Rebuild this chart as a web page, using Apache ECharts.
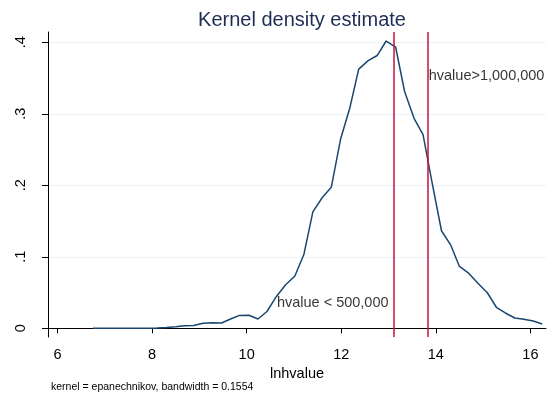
<!DOCTYPE html>
<html>
<head>
<meta charset="utf-8">
<script src="https://cdn.jsdelivr.net/npm/echarts@6/dist/echarts.min.js"></script>
<style>
  html, body { margin: 0; padding: 0; background: #fff; }
  #main { width: 547px; height: 396px; }
</style>
</head>
<body>
<div id="main"></div>
<script>
// density estimate (50 evaluation points)
const xs = [6.75, 6.95, 7.14, 7.33, 7.53, 7.72, 7.91, 8.11, 8.30, 8.50,
  8.69, 8.88, 9.08, 9.27, 9.47, 9.66, 9.85, 10.05, 10.24, 10.43,
  10.63, 10.82, 11.02, 11.21, 11.40, 11.60, 11.79, 11.99, 12.18, 12.37,
  12.57, 12.76, 12.95, 13.15, 13.34, 13.54, 13.73, 13.92, 14.12, 14.31,
  14.50, 14.70, 14.89, 15.09, 15.28, 15.47, 15.67, 15.86, 16.06, 16.25]
const density = [0, 0, 0, 0, 0, 0, 0, 0.0003, 0.0011, 0.0021,
  0.0035, 0.0038, 0.0071, 0.0077, 0.0074, 0.0130, 0.0180, 0.0182, 0.0130, 0.0235,
  0.0445, 0.0606, 0.0731, 0.1031, 0.1627, 0.1829, 0.1972, 0.2655, 0.3077, 0.3624,
  0.3743, 0.3815, 0.4018, 0.3934, 0.3312, 0.2937, 0.2709, 0.2042, 0.1364, 0.1171,
  0.0865, 0.0767, 0.0630, 0.0497, 0.0294, 0.0214, 0.0144, 0.0126, 0.0102, 0.0060]
const xTicks = [6, 8, 10, 12, 14, 16]
const yTicks = [0, 0.1, 0.2, 0.3, 0.4]
const yTickLabels = ['0', '.1', '.2', '.3', '.4']
const cutoffs = [13.122, 13.8155]   // ln(500,000), ln(1,000,000)
const notes = [
  { name: 'hvalue < 500,000', x: 10.64, y: 0.0354 },
  { name: 'hvalue>1,000,000', x: 13.85, y: 0.353 }
]

const font = 'Liberation Sans, Arial, sans-serif'
let chart = echarts.init(document.getElementById('main'))

chart.setOption({
  animation: false,
  title: {
    text: 'Kernel density estimate',
    left: 297,
    textAlign: 'center',
    top: 5,
    textStyle: { color: '#1e2d53', fontSize: 20, fontWeight: 'normal', fontFamily: font }
  },
  grid: { left: 48, right: 1, top: 32, bottom: 59 },
  xAxis: {
    type: 'value',
    min: 5.8,
    max: 16.33,
    name: 'lnhvalue',
    nameLocation: 'middle',
    nameGap: 25,
    nameTextStyle: { color: '#000', fontSize: 14.5, fontFamily: font },
    axisLine: { lineStyle: { color: '#000', width: 1 } },
    axisTick: { show: true, length: 5, customValues: xTicks, lineStyle: { color: '#000' } },
    axisLabel: { customValues: xTicks, color: '#000', fontSize: 14.5, fontFamily: font, margin: 10 },
    splitLine: { show: false }
  },
  yAxis: {
    type: 'value',
    min: -0.0122,
    max: 0.4144,
    axisLine: { show: true, lineStyle: { color: '#000', width: 1 } },
    axisTick: { show: true, length: 6, customValues: yTicks, lineStyle: { color: '#000' } },
    axisLabel: {
      customValues: yTicks,
      rotate: 90,
      color: '#000',
      fontSize: 14.5,
      fontFamily: font,
      margin: 20,
      formatter: v => yTickLabels[yTicks.findIndex(t => Math.abs(t - v) < 1e-6)]
    },
    splitLine: { show: true, lineStyle: { color: '#eaf2f3', width: 1.2 } }
  },
  series: [
    {
      type: 'line',
      data: xs.map((x, i) => [x, density[i]]),
      showSymbol: false,
      lineStyle: { color: '#1a476f', width: 1.5 },
      markLine: {
        silent: true,
        symbol: 'none',
        label: { show: false },
        lineStyle: { color: '#c8103c', width: 1.5, type: 'solid' },
        data: cutoffs.map(c => ({ xAxis: c }))
      }
    },
    {
      type: 'scatter',
      symbolSize: 0,
      data: notes.map(n => ({ name: n.name, value: [n.x, n.y] })),
      label: {
        show: true,
        position: 'right',
        distance: 0,
        formatter: '{b}',
        color: '#000',
        fontSize: 14.5,
        fontFamily: font
      }
    }
  ],
  graphic: [
    {
      type: 'text',
      left: 51,
      top: 382,
      style: { text: 'kernel = epanechnikov, bandwidth = 0.1554', fill: '#000', fontSize: 10.5, fontFamily: font }
    }
  ]
})
</script>
</body>
</html>
